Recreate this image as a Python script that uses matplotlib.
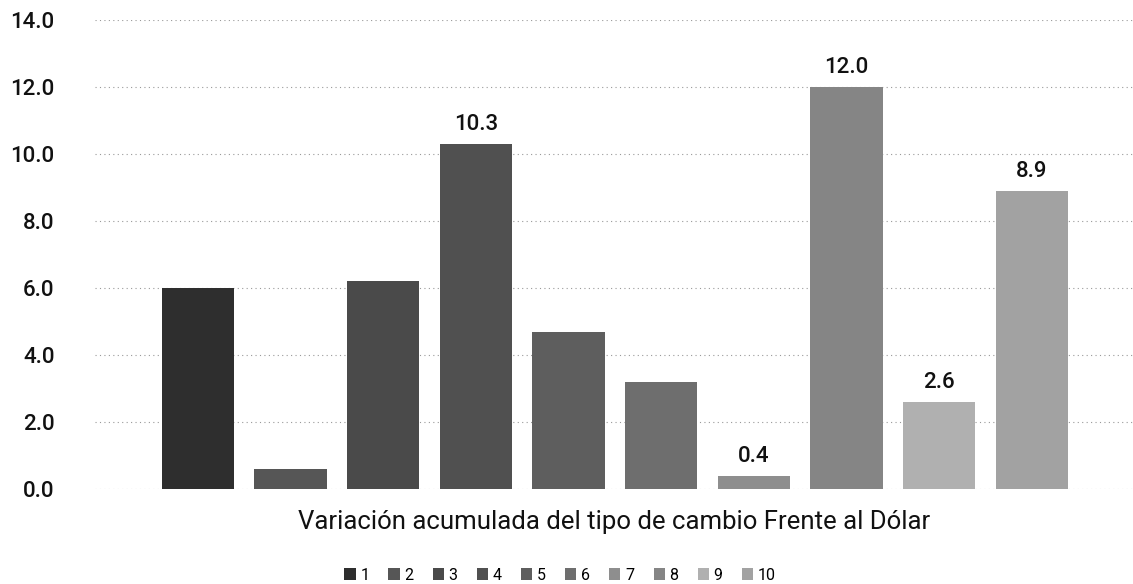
import matplotlib.pyplot as plt
from matplotlib.patches import Patch

# Data
series = ['1', '2', '3', '4', '5', '6', '7', '8', '9', '10']
values = [6.0, 0.6, 6.2, 10.3, 4.7, 3.2, 0.4, 12.0, 2.6, 8.9]
labelled = {3, 6, 7, 8, 9}  # bars that carry a value label
colors = ['#2e2e2e', '#565656', '#4a4a4a', '#505050', '#5e5e5e',
          '#6e6e6e', '#8e8e8e', '#858585', '#b0b0b0', '#a2a2a2']
yticks = [0, 2, 4, 6, 8, 10, 12, 14]
xlabel = 'Variación acumulada del tipo de cambio Frente al Dólar'

plt.rcParams['font.family'] = ['Roboto', 'DejaVu Sans']

fig = plt.figure(figsize=(11.33, 5.84), dpi=100)
ax = fig.add_axes([95 / 1133, 95 / 584, 1 - 95 / 1133, (489 - 20) / 584])

x = list(range(len(values)))
bars = ax.bar(x, values, width=0.78, color=colors, zorder=3)

for i, b in enumerate(bars):
    if i in labelled:
        ax.text(b.get_x() + b.get_width() / 2, values[i] + 0.42, f'{values[i]:.1f}',
                ha='center', va='baseline', fontsize=16, fontweight='medium', color='#111111')

ax.set_xlim(-1.11, 10.09)
ax.set_ylim(0, 14)
ax.set_yticks(yticks)
ax.set_yticklabels([f'{v:.1f}' for v in yticks], fontsize=16, fontweight='medium', color='#111111')
ax.set_xticks([])
ax.tick_params(axis='y', length=0, pad=29)
for s in ax.spines.values():
    s.set_visible(False)
ax.grid(axis='y', linestyle=(0, (1, 3)), color='#999999', linewidth=0.8, zorder=0)

ax.set_xlabel(xlabel, fontsize=18.5, color='#111111', labelpad=15)

handles = [Patch(facecolor=c, label=s) for c, s in zip(colors, series)]
fig.legend(handles=handles, loc='center', bbox_to_anchor=(560 / 1133, 1 - 575 / 584),
           ncol=10, frameon=False, fontsize=11.5, handlelength=0.7, handleheight=0.7,
           handletextpad=0.3, columnspacing=1.2)

fig.savefig('out.png', dpi=100)
